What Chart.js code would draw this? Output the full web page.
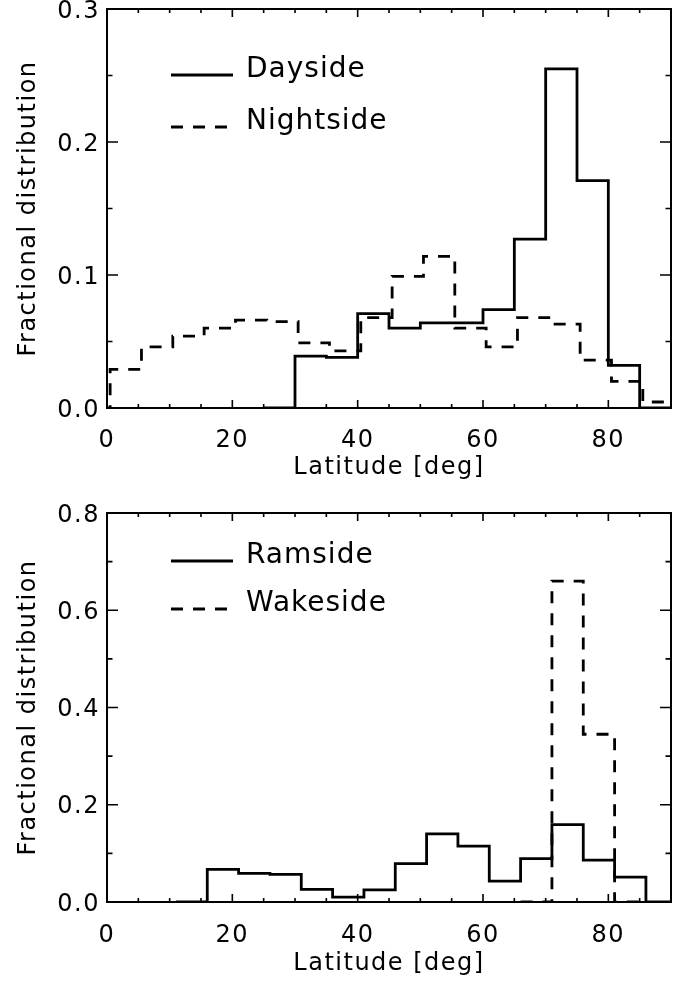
<!DOCTYPE html>
<html><head><meta charset="utf-8">
<script src="https://cdn.jsdelivr.net/npm/chart.js@4.4.0/dist/chart.umd.min.js"></script>
<style>
html,body{margin:0;padding:0;background:#fff;}
#wrap{position:relative;width:681px;height:981px;overflow:hidden;}
canvas{position:absolute;left:0;}
#c1{top:0;} #c2{top:490px;}
</style></head><body>
<div id="wrap"><canvas id="c1" width="681" height="490"></canvas><canvas id="c2" width="681" height="491"></canvas></div>
<script>
// ---- data ----
const xTickValues = [0, 20, 40, 60, 80];
const topYTicks = [0.0, 0.1, 0.2, 0.3];
const bottomYTicks = [0.0, 0.2, 0.4, 0.6, 0.8];
const xTitle = 'Latitude [deg]';
const yTitle = 'Fractional distribution';

const topSeriesNames = ['Dayside', 'Nightside'];
const bottomSeriesNames = ['Ramside', 'Wakeside'];

const dayBinEdges = [25, 30, 35, 40, 45, 50, 55, 60, 65, 70, 75, 80, 85, 90];
const dayFraction = [0, 0.039, 0.038, 0.071, 0.060, 0.064, 0.064, 0.074, 0.127, 0.255, 0.171, 0.032, 0];

const nightBinEdges = [-4.5, 0.5, 5.5, 10.5, 15.5, 20.5, 25.5, 30.5, 35.5, 40.5, 45.5, 50.5, 55.5, 60.5, 65.5, 70.5, 75.5, 80.5, 85.5, 90.5];
const nightFraction = [0, 0.029, 0.046, 0.054, 0.060, 0.066, 0.065, 0.049, 0.043, 0.068, 0.099, 0.114, 0.060, 0.046, 0.068, 0.063, 0.036, 0.020, 0.0045];

const ramBinEdges = [11, 16, 21, 26, 31, 36, 41, 46, 51, 56, 61, 66, 71, 76, 81, 86, 91];
const ramFraction = [0, 0.067, 0.059, 0.057, 0.026, 0.010, 0.025, 0.079, 0.140, 0.115, 0.043, 0.089, 0.159, 0.086, 0.051, 0];

const wakeBinEdges = [66, 71, 76, 81, 86];
const wakeFraction = [0, 0.66, 0.345, 0];

// ---- helpers ----
function stepPoints(edges, vals) {
  const pts = vals.map((v, i) => ({x: edges[i], y: v}));
  pts.push({x: edges[edges.length - 1], y: vals[vals.length - 1]});
  return pts;
}

Chart.defaults.font.family = '"DejaVu Sans", sans-serif';
Chart.defaults.color = '#000';

const spacingPlugin = {
  id: 'spacing',
  beforeUpdate(chart) { chart.ctx.letterSpacing = '1.5px'; },
  beforeDraw(chart) { chart.ctx.letterSpacing = '1.5px'; }
};

const framePlugin = {
  id: 'frame',
  afterDatasetsDraw(chart, args, o) {
    const {ctx, chartArea: a, scales: {x, y}} = chart;
    ctx.save();
    ctx.strokeStyle = '#000';
    ctx.lineWidth = 1.6;
    ctx.setLineDash([]);
    let n = Math.round((x.max - x.min) / o.xMinor);
    for (let i = 1; i < n; i++) {
      const v = x.min + i * o.xMinor;
      const major = Math.abs(v / o.xMajor - Math.round(v / o.xMajor)) < 1e-6;
      const len = major ? o.xMajorLen : o.xMajorLen / 2;
      const px = x.getPixelForValue(v);
      ctx.beginPath();
      ctx.moveTo(px, a.bottom); ctx.lineTo(px, a.bottom - len);
      ctx.moveTo(px, a.top); ctx.lineTo(px, a.top + len);
      ctx.stroke();
    }
    n = Math.round((y.max - y.min) / o.yMinor);
    for (let i = 1; i < n; i++) {
      const v = y.min + i * o.yMinor;
      const major = Math.abs(v / o.yMajor - Math.round(v / o.yMajor)) < 1e-6;
      const len = major ? o.yMajorLen : o.yMajorLen / 2;
      const py = y.getPixelForValue(v);
      ctx.beginPath();
      ctx.moveTo(a.left, py); ctx.lineTo(a.left + len, py);
      ctx.moveTo(a.right, py); ctx.lineTo(a.right - len, py);
      ctx.stroke();
    }
    ctx.lineWidth = 2;
    ctx.strokeRect(a.left, a.top, a.right - a.left, a.bottom - a.top);
    ctx.restore();
  }
};

const legendPlugin = {
  id: 'inLegend',
  afterDraw(chart, args, o) {
    const ctx = chart.ctx;
    ctx.save();
    ctx.font = o.fontSize + 'px "DejaVu Sans"';
    ctx.letterSpacing = '1px';
    ctx.textBaseline = 'middle';
    ctx.textAlign = 'left';
    chart.data.datasets.forEach((ds, i) => {
      const yy = o.y0 + i * o.dy;
      ctx.strokeStyle = '#000';
      ctx.lineWidth = ds.borderWidth;
      ctx.setLineDash(ds.borderDash || []);
      ctx.beginPath(); ctx.moveTo(o.x1, yy); ctx.lineTo(o.x2, yy); ctx.stroke();
      ctx.setLineDash([]);
      ctx.fillStyle = '#000';
      ctx.fillText(ds.label, o.tx, yy - 5);
    });
    ctx.restore();
  }
};

function makeChart(id, datasets, yMax, yTicks, cfg) {
  return new Chart(document.getElementById(id), {
    type: 'line',
    data: {datasets},
    options: {
      responsive: false, animation: false, devicePixelRatio: 1, events: [],
      layout: {padding: {top: cfg.padTop, right: 10, left: 0, bottom: 0}},
      plugins: {
        legend: {display: false}, tooltip: {enabled: false},
        frame: {xMinor: 5, xMajor: 20, xMajorLen: 8, yMinor: cfg.yMinor, yMajor: cfg.yMajor, yMajorLen: 11},
        inLegend: {x1: 171, x2: 233, tx: 246, y0: cfg.legY0, dy: cfg.legDy, fontSize: 28}
      },
      scales: {
        x: {
          type: 'linear', min: 0, max: 90,
          afterBuildTicks: s => { s.ticks = xTickValues.map(v => ({value: v})); },
          afterFit: s => { s.height = cfg.xH; s.paddingLeft = 0; s.paddingRight = 0; },
          grid: {display: false, drawTicks: false}, border: {display: false},
          ticks: {padding: cfg.xTickPad, font: {size: 24, lineHeight: 1}, maxRotation: 0, callback: v => String(v)},
          title: {display: true, text: xTitle, font: {size: 24, lineHeight: 1}, padding: {top: 0, bottom: cfg.xTitlePad}}
        },
        y: {
          type: 'linear', min: 0, max: yMax,
          afterBuildTicks: s => { s.ticks = yTicks.map(v => ({value: v})); },
          afterFit: s => { s.width = 107; s.paddingTop = 0; s.paddingBottom = 0; },
          grid: {display: false, drawTicks: false}, border: {display: false},
          ticks: {padding: 7, labelOffset: 2.5, font: {size: 24, lineHeight: 1}, callback: v => Number(v).toFixed(1)},
          title: {display: true, text: yTitle, font: {size: 24, lineHeight: 1}, padding: {top: 17, bottom: 0}}
        }
      }
    },
    plugins: [spacingPlugin, framePlugin, legendPlugin]
  });
}

const lineBase = {borderColor: '#000', borderWidth: 2.8, pointRadius: 0, stepped: true, fill: false, tension: 0};

makeChart('c1', [
  Object.assign({}, lineBase, {label: topSeriesNames[0], data: stepPoints(dayBinEdges, dayFraction)}),
  Object.assign({}, lineBase, {label: topSeriesNames[1], data: stepPoints(nightBinEdges, nightFraction), borderDash: [12, 10]})
], 0.3, topYTicks, {padTop: 9, xH: 82, xTickPad: 21, xTitlePad: 10, yMinor: 0.05, yMajor: 0.1, legY0: 75, legDy: 52});

makeChart('c2', [
  Object.assign({}, lineBase, {label: bottomSeriesNames[0], data: stepPoints(ramBinEdges, ramFraction)}),
  Object.assign({}, lineBase, {label: bottomSeriesNames[1], data: stepPoints(wakeBinEdges, wakeFraction), borderDash: [12, 10]})
], 0.8, bottomYTicks, {padTop: 23, xH: 79, xTickPad: 22, xTitlePad: 5, yMinor: 0.1, yMajor: 0.2, legY0: 71, legDy: 48});
</script>
</body></html>
